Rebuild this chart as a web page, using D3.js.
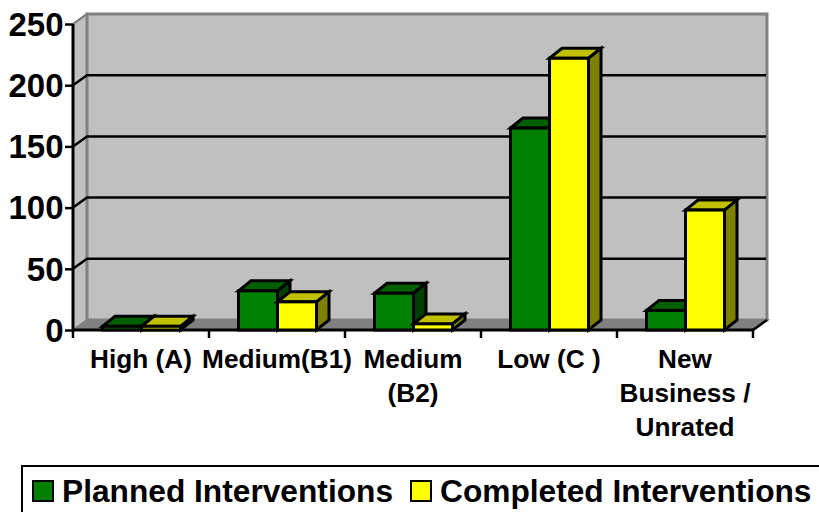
<!DOCTYPE html>
<html><head><meta charset="utf-8">
<script src="https://cdn.jsdelivr.net/npm/d3@7/dist/d3.min.js"></script>
<style>html,body{margin:0;background:#fff}svg{display:block}text{font-family:"Liberation Sans",Arial,sans-serif;font-weight:bold;fill:#000}</style>
</head><body><svg width="819" height="512"></svg>
<script>
// Planned vs. completed interventions per risk rating
const categories = [["High (A)"], ["Medium(B1)"], ["Medium", "(B2)"], ["Low (C )"], ["New", "Business /", "Unrated"]];
const planned = [3, 32, 30, 165, 16];
const completed = [3, 23, 5, 222, 98];
const yTicks = [0, 50, 100, 150, 200, 250];
const seriesNames = ["Planned Interventions", "Completed Interventions"];

const svg = d3.select("svg");
const depthX = 14, depthY = 10, barDepthX = 12.5;
const y = d3.scaleLinear().domain([0, 250]).range([330, 24]);
const x = d3.scaleBand().domain(d3.range(categories.length)).range([73, 753]);
const inner = d3.scaleBand().domain([0, 1]).range([0, 78]);
const barOffset = (x.bandwidth() - inner.range()[1]) / 2 + 0.5;

const x0 = x.range()[0], x1 = x.range()[1], y0 = y(0), yTop = y(250);
const poly = (pts, fill, stroke, w) => svg.append("polygon")
  .attr("points", pts.map(p => p.join(",")).join(" "))
  .attr("fill", fill).attr("stroke", stroke).attr("stroke-width", w).attr("stroke-linejoin", "miter");

// Back wall, side wall and floor
poly([[x0, y0], [x0 + depthX, y0 - depthY], [x1 + depthX, y0 - depthY], [x1, y0]], "#808080", "#808080", 2);
poly([[x0, y0], [x0, yTop], [x0 + depthX, yTop - depthY], [x0 + depthX, y0 - depthY]], "#c0c0c0", "#808080", 2);
poly([[x0 + depthX, yTop - depthY], [x1 + depthX, yTop - depthY], [x1 + depthX, y0 - depthY], [x0 + depthX, y0 - depthY]], "#c0c0c0", "#808080", 3);

// Gridlines wrap from the side wall onto the back wall
yTicks.slice(1, -1).forEach(t => {
  svg.append("polyline").attr("fill", "none").attr("stroke", "#000").attr("stroke-width", 2.5)
    .attr("points", `${x0},${y(t)} ${x0 + depthX},${y(t) - depthY} ${x1 + depthX - 1},${y(t) - depthY}`);
});
svg.append("line").attr("x1", x0).attr("y1", y(250)).attr("x2", x0 + depthX).attr("y2", y(250) - depthY)
  .attr("stroke", "#808080").attr("stroke-width", 2);

// Axes
const yAxis = d3.axisLeft(y).tickValues(yTicks).tickSize(8).tickPadding(1.5);
const gy = svg.append("g").attr("transform", `translate(${x0},0)`).call(yAxis);
gy.select(".domain").attr("stroke", "#000").attr("stroke-width", 3).attr("d", `M0,${yTop}V${y0}`);
gy.selectAll(".tick line").attr("stroke", "#000").attr("stroke-width", 2.5);
gy.selectAll("text").attr("dy", "0.34em")
  .style("font-size", "33px")
  .style("font-family", '"Liberation Sans",Arial,sans-serif').style("font-weight", "bold");

const gx = svg.append("g");
gx.append("line").attr("x1", x0).attr("x2", x1).attr("y1", y0).attr("y2", y0).attr("stroke", "#000").attr("stroke-width", 3);
d3.range(categories.length + 1).forEach(i => {
  const px = x0 + i * x.step();
  gx.append("line").attr("x1", px).attr("x2", px).attr("y1", y0).attr("y2", y0 + 8).attr("stroke", "#000").attr("stroke-width", 2.5);
});
svg.append("line").attr("x1", x1).attr("y1", y0).attr("x2", x1 + depthX).attr("y2", y0 - depthY)
  .attr("stroke", "#000").attr("stroke-width", 2.5);

// One box: back faces first, so neighbouring bars overlap correctly
function box(left, value, front, top, side) {
  const w = inner.bandwidth(), t = y(value), r = left + w;
  const sw = 3;
  poly([[left, t], [left + barDepthX, t - depthY], [r + barDepthX, t - depthY], [r, t]], top, "#000", sw);
  poly([[r, t], [r + barDepthX, t - depthY], [r + barDepthX, y0 - depthY], [r, y0]], side, "#000", sw);
  svg.append("rect").attr("x", left).attr("y", t).attr("width", w).attr("height", y0 - t)
    .attr("fill", front).attr("stroke", "#000").attr("stroke-width", sw);
}
categories.forEach((c, i) => {
  const base = x(i) + barOffset;
  box(base + inner(0), planned[i], "#008000", "#006000", "#004000");
  box(base + inner(1), completed[i], "#ffff00", "#c0c000", "#808000");
});

// Category labels
categories.forEach((lines, i) => {
  const t = svg.append("text").attr("text-anchor", "middle").attr("font-size", 26.2);
  lines.forEach((l, k) => t.append("tspan")
    .attr("x", x(i) + x.bandwidth() / 2).attr("y", 368 + k * 34).text(l));
});

// Legend
svg.append("rect").attr("x", 22).attr("y", 466).attr("width", 800).attr("height", 60)
  .attr("fill", "#fff").attr("stroke", "#000").attr("stroke-width", 2);
const legendColor = d3.scaleOrdinal().domain(seriesNames).range(["#008000", "#ffff00"]);
const keyX = [33, 411], labelX = [62, 440];
seriesNames.forEach((name, i) => {
  svg.append("rect").attr("x", keyX[i]).attr("y", 481).attr("width", 20).attr("height", 20)
    .attr("fill", legendColor(name)).attr("stroke", "#000").attr("stroke-width", 2);
  svg.append("text").attr("x", labelX[i]).attr("y", 502).attr("font-size", 31.7).text(name);
});
</script></body></html>
